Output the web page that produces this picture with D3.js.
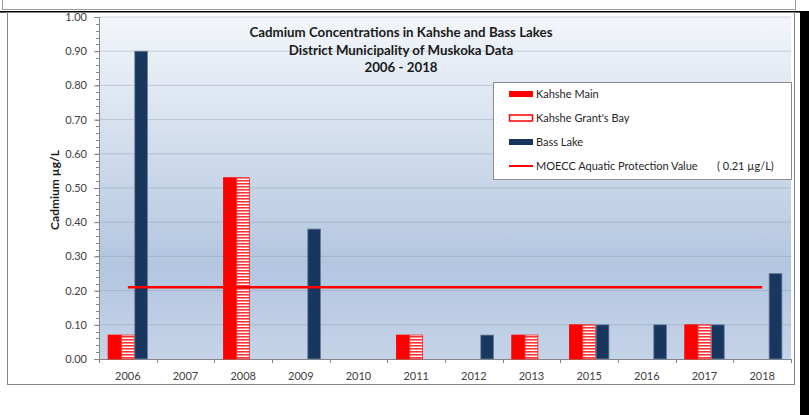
<!DOCTYPE html>
<html><head><meta charset="utf-8">
<script src="https://cdn.jsdelivr.net/npm/d3@7"></script>
<style>body{margin:0;background:#fff}svg{display:block}text{font-family:Lato,"Open Sans",sans-serif}</style>
</head><body>
<script>
const years = ["2006","2007","2008","2009","2010","2011","2012","2013","2015","2016","2017","2018"];
const kahsheMain   = [0.07,null,0.53,null,null,0.07,null,0.07,0.10,null,0.10,null];
const kahsheGrants = [0.07,null,0.53,null,null,0.07,null,0.07,0.10,null,0.10,null];
const bassLake     = [0.90,null,null,0.38,null,null,0.07,null,0.10,0.10,0.10,0.25];
const guidelineValue = 0.21;
const seriesNames = ["Kahshe Main","Kahshe Grant's Bay","Bass Lake"];
const yTickValues = [0,0.1,0.2,0.3,0.4,0.5,0.6,0.7,0.8,0.9,1.0];
const titleLines = ["Cadmium  Concentrations in Kahshe and Bass Lakes","District Municipality of Muskoka Data","2006 - 2018"];
const legendLabels = ["Kahshe Main","Kahshe Grant's Bay","Bass Lake","MOECC Aquatic Protection Value"];

const W=809,H=415;
const svg=d3.select("body").append("svg").attr("width",W).attr("height",H);
const defs=svg.append("defs");
const grad=defs.append("linearGradient").attr("id","bg").attr("x1",0).attr("y1",0).attr("x2",0).attr("y2",1);
grad.append("stop").attr("offset","0%").attr("stop-color","#f3f6fa");
grad.append("stop").attr("offset","72%").attr("stop-color","#b3c6e0");
grad.append("stop").attr("offset","100%").attr("stop-color","#c4d3e8");
const pat=defs.append("pattern").attr("id","hatch").attr("patternUnits","userSpaceOnUse").attr("width",8).attr("height",3);
pat.append("rect").attr("width",8).attr("height",3).attr("fill","#ffffff");
pat.append("rect").attr("width",8).attr("height",1.6).attr("fill","#ff3333");

// top decorations
svg.append("rect").attr("x",2.5).attr("y",-2).attr("width",793).attr("height",11.5).attr("fill","#fff").attr("stroke","#9a9a9a");
svg.append("rect").attr("x",0).attr("y",11).attr("width",W).attr("height",1.6).attr("fill","#000");
svg.append("rect").attr("x",800).attr("y",11).attr("width",9).attr("height",H-11).attr("fill","#000");
// chart frame
svg.append("rect").attr("x",7.5).attr("y",12.5).attr("width",787).attr("height",372).attr("fill","#fff").attr("stroke","#868686");

const m={l:99,r:791,t:17,b:359};
const x0=d3.scaleBand().domain(years).range([m.l,m.r]).padding(0);
const x1=d3.scaleBand().domain(seriesNames).range([0,x0.bandwidth()]).paddingInner(0.04).paddingOuter(0.68);
const y=d3.scaleLinear().domain([0,1]).range([m.b,m.t]);

svg.append("rect").attr("x",m.l).attr("y",m.t).attr("width",m.r-m.l).attr("height",m.b-m.t).attr("fill","url(#bg)");

// gridlines
svg.append("g").selectAll("line").data(yTickValues.filter(d=>d>0)).join("line")
  .attr("x1",m.l).attr("x2",m.r).attr("y1",d=>y(d)).attr("y2",d=>y(d))
  .attr("stroke","#7f8da0").attr("stroke-opacity",0.35).attr("stroke-width",1);

// y axis
const yAxis=d3.axisLeft(y).tickValues(yTickValues).tickFormat(d3.format(".2f")).tickSize(5).tickPadding(7);
const gy=svg.append("g").attr("transform",`translate(${m.l},0)`).call(yAxis);
gy.select(".domain").attr("stroke","#868686");
gy.selectAll(".tick line").attr("stroke","#868686");
gy.selectAll("text").attr("font-size",11).attr("fill","#404040");
const minor=d3.range(0,1.0001,0.02);
svg.append("g").selectAll("line").data(minor).join("line")
  .attr("x1",m.l-3).attr("x2",m.l).attr("y1",d=>Math.round(y(d))+0.5).attr("y2",d=>Math.round(y(d))+0.5).attr("stroke","#868686");

// x axis
const gx=svg.append("g").attr("transform",`translate(0,${m.b})`).call(d3.axisBottom(x0).tickSize(0).tickPadding(13));
gx.select(".domain").attr("stroke","#868686");
gx.selectAll("text").attr("font-size",11).attr("fill","#404040");
const bounds=years.map(d=>x0(d)).concat([m.r]);
svg.append("g").selectAll("line").data(bounds).join("line")
  .attr("x1",d=>Math.round(d)+0.5).attr("x2",d=>Math.round(d)+0.5).attr("y1",m.b).attr("y2",m.b+4).attr("stroke","#868686");

// bars
const series=[
  {name:seriesNames[0],vals:kahsheMain,fill:"#ff0000",stroke:"#ff0000"},
  {name:seriesNames[1],vals:kahsheGrants,fill:"url(#hatch)",stroke:"#ff2020"},
  {name:seriesNames[2],vals:bassLake,fill:"#17375e",stroke:"#6f819a"}
];
series.forEach(s=>{
  svg.append("g").selectAll("rect").data(years.map((yr,i)=>({yr,v:s.vals[i]})).filter(d=>d.v!=null)).join("rect")
    .attr("x",d=>x0(d.yr)+x1(s.name)).attr("width",x1.bandwidth())
    .attr("y",d=>y(d.v)).attr("height",d=>y(0)-y(d.v))
    .attr("fill",s.fill).attr("stroke",s.stroke).attr("stroke-width",0.8);
});

// guideline
svg.append("line").attr("x1",x0(years[0])+x0.bandwidth()/2).attr("x2",x0(years[years.length-1])+x0.bandwidth()/2)
  .attr("y1",y(guidelineValue)).attr("y2",y(guidelineValue)).attr("stroke","#ff0000").attr("stroke-width",2.5);

// title
const tg=svg.append("g").attr("text-anchor","middle").attr("font-weight","bold").attr("font-size",13.3).attr("fill","#1a1a1a");
titleLines.forEach((t,i)=>tg.append("text").attr("x",401).attr("y",37+i*17.5).text(t));

// y title
svg.append("text").attr("transform","translate(59,190) rotate(-90)").attr("text-anchor","middle")
  .attr("font-weight","bold").attr("font-size",12).attr("fill","#1a1a1a").text("Cadmium µg/L");

// legend
const lg=svg.append("g");
lg.append("rect").attr("x",493.5).attr("y",82.5).attr("width",298).attr("height",97).attr("fill","#fff").attr("stroke","#8c8c8c");
const rows=[94,118,142,166];
lg.append("rect").attr("x",509).attr("y",rows[0]-3).attr("width",24).attr("height",6).attr("fill","#ff0000");
lg.append("rect").attr("x",509.5).attr("y",rows[1]-3).attr("width",23).attr("height",6).attr("fill","#fff").attr("stroke","#ff0000").attr("stroke-width",1.5);
lg.append("rect").attr("x",509).attr("y",rows[2]-3).attr("width",24).attr("height",6).attr("fill","#17375e");
lg.append("line").attr("x1",509).attr("x2",533).attr("y1",rows[3]).attr("y2",rows[3]).attr("stroke","#ff0000").attr("stroke-width",2);
legendLabels.forEach((t,i)=>{
  lg.append("text").attr("x",536).attr("y",rows[i]+4).attr("font-size",11).attr("fill","#262626").text(t);
});
lg.append("text").attr("x",717).attr("y",rows[3]+4).attr("font-size",11).attr("fill","#262626").text("( 0.21 µg/L)");
</script>
</body></html>
